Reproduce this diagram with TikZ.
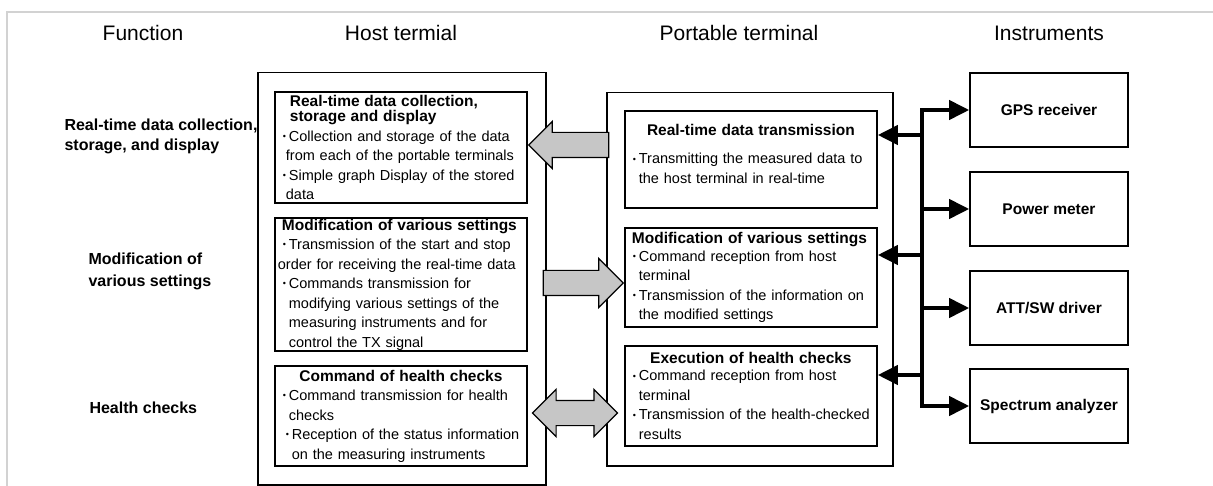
\documentclass[tikz,border=0pt]{standalone}
\usepackage{fontspec}
\setmainfont{Liberation Sans}
\usetikzlibrary{positioning,arrows.meta,shapes.arrows}
\tikzset{>={Triangle[length=20pt,width=19pt]}}
\newcommand{\body}{\fontsize{14.5}{19.5}\selectfont}
\newcommand{\ttl}[1]{{\bfseries\fontsize{15.5}{19.5}\selectfont #1}}
\newcommand{\bul}{\hspace*{2pt}\makebox[9pt][c]{\raisebox{1.6pt}{\fontsize{9}{9}\selectfont •}}}
\newcommand{\ind}{\hspace*{11pt}}
\tikzset{
  box/.style={draw, line width=1.5pt, inner sep=0pt, anchor=north west},
  inbox/.style={draw, line width=1.8pt, anchor=north west, inner xsep=3pt, inner ysep=0pt,
    text width=246pt, align=left, font=\body},
  inst/.style={draw, line width=1.6pt, minimum width=158pt, minimum height=74pt,
    font=\bfseries\fontsize{15.5}{18}\selectfont},
  head/.style={font=\fontsize{21}{24}\selectfont},
  func/.style={anchor=west, align=left, font=\bfseries\fontsize{16}{20}\selectfont},
  fat/.style={draw, line width=1.2pt, fill=gray!45, inner xsep=0pt, inner ysep=12pt,
    text height=0pt, text depth=0pt},
  bus/.style={line width=4pt},
}

\begin{document}
\begin{tikzpicture}[x=1pt, y=-1pt]
      \useasboundingbox (0,0) rectangle (1213,486);
      \draw[gray!35, line width=1.5pt] (7,486) -- (7,12) -- (1213,12);
      % column heads
      \node[head] (t0) at (143,33) {Function};
      \node[head] (t1) at (401,33) {Host termial};
      \node[head] (t2) at (739,33) {Portable terminal};
      \node[head] (t3) at (1049,33) {Instruments};
      % functions
      \node[func] (f1) at (61,136) {Real-time data collection,\\storage, and display};
      \node[func, font=\bfseries\fontsize{16}{22}\selectfont] (f2) at (85,271) {Modification of\\various settings};
      \node[func] (f3) at (86,408) {Health checks};
      % host terminal
      \node[box, minimum width=288pt, minimum height=412pt] (host) at (257,72) {};
      \node[inbox, minimum height=111pt] (h1) at (274,91) {\hspace*{12pt}\ttl{Real-time data collection,}\\[-4pt]
        \hspace*{12pt}\ttl{storage and display}\\
        \bul Collection and storage of the data\\
        \hspace*{8pt}from each of the portable terminals\\
        \bul Simple graph Display of the stored\\
        \hspace*{8pt}data};
      \node[inbox, minimum height=133pt] (h2) at (274,217) {\hspace*{4pt}\ttl{Modification of various settings}\\
        \bul Transmission of the start and stop\\
        order for receiving the real-time data\\
        \bul Commands transmission for\\
        \ind modifying various settings of the\\
        \ind measuring instruments and for\\
        \ind control the TX signal};
      \node[inbox, minimum height=100pt] (h3) at (274,365) {\makebox[\linewidth][c]{\ttl{Command of health checks}}\\
        \bul Command transmission for health\\
        \ind checks\\
        \hspace*{3pt}\bul Reception of the status information\\
        \hspace*{3pt}\ind on the measuring instruments};
      % portable terminal
      \node[box, minimum width=286pt, minimum height=373pt] (port) at (606,92) {};
      \node[inbox, minimum height=97pt] (p1) at (624,110) {\makebox[\linewidth][c]{\ttl{Real-time data transmission}}\\[9pt]
        \bul Transmitting the measured data to\\
        \ind the host terminal in real-time\\[-8pt]\mbox{}};
      \node[inbox, minimum height=99pt] (p2) at (624,227) {\hspace*{4pt}\ttl{Modification of various settings}\\[-2pt]
        \bul Command reception from host\\
        \ind terminal\\
        \bul Transmission of the information on\\
        \ind the modified settings};
      \node[inbox, minimum height=100pt] (p3) at (624,345) {\makebox[\linewidth][c]{\ttl{Execution of health checks}}\\[-2pt]
        \bul Command reception from host\\
        \ind terminal\\
        \bul Transmission of the health-checked\\
        \ind results};
      % instruments
      \node[inst] (i1) at (1049,110) {GPS receiver};
      \node[inst, below of=i1, node distance=99pt] (i2) {Power meter};
      \node[inst, below of=i2, node distance=99pt] (i3) {ATT/SW driver};
      \node[inst, below of=i3, node distance=98pt] (i4) {Spectrum analyzer};
      % bus
      \coordinate (aux1) at (922,110);
      \coordinate (aux2) at (922,406);
      \coordinate (aux3) at (922,135);
      \coordinate (aux4) at (922,255);
      \coordinate (aux5) at (922,375);
      \draw[bus, line cap=rect] (aux1) -- (aux2);
      \draw[bus, ->] (aux1) -- (i1.west);
      \draw[bus, ->] (i2.west -| aux1) -- (i2.west);
      \draw[bus, ->] (i3.west -| aux1) -- (i3.west);
      \draw[bus, ->] (aux2) -- (i4.west);
      \draw[bus, ->] (aux3) -- (p1.east |- aux3);
      \draw[bus, ->] (aux4) -- (p2.east |- aux4);
      \draw[bus, ->] (aux5) -- (p3.east |- aux5);
      % host <-> portable
      \node[fat, single arrow, shape border rotate=180, single arrow head extend=11pt, minimum height=80pt] (a1) at (575,145) {};
      \node[fat, single arrow, single arrow head extend=12pt, minimum height=80pt] (a2) at (577,283) {};
      \node[fat, double arrow, double arrow head extend=11pt, minimum height=85pt] (a3) at (575,413) {};
\end{tikzpicture}
\end{document}
